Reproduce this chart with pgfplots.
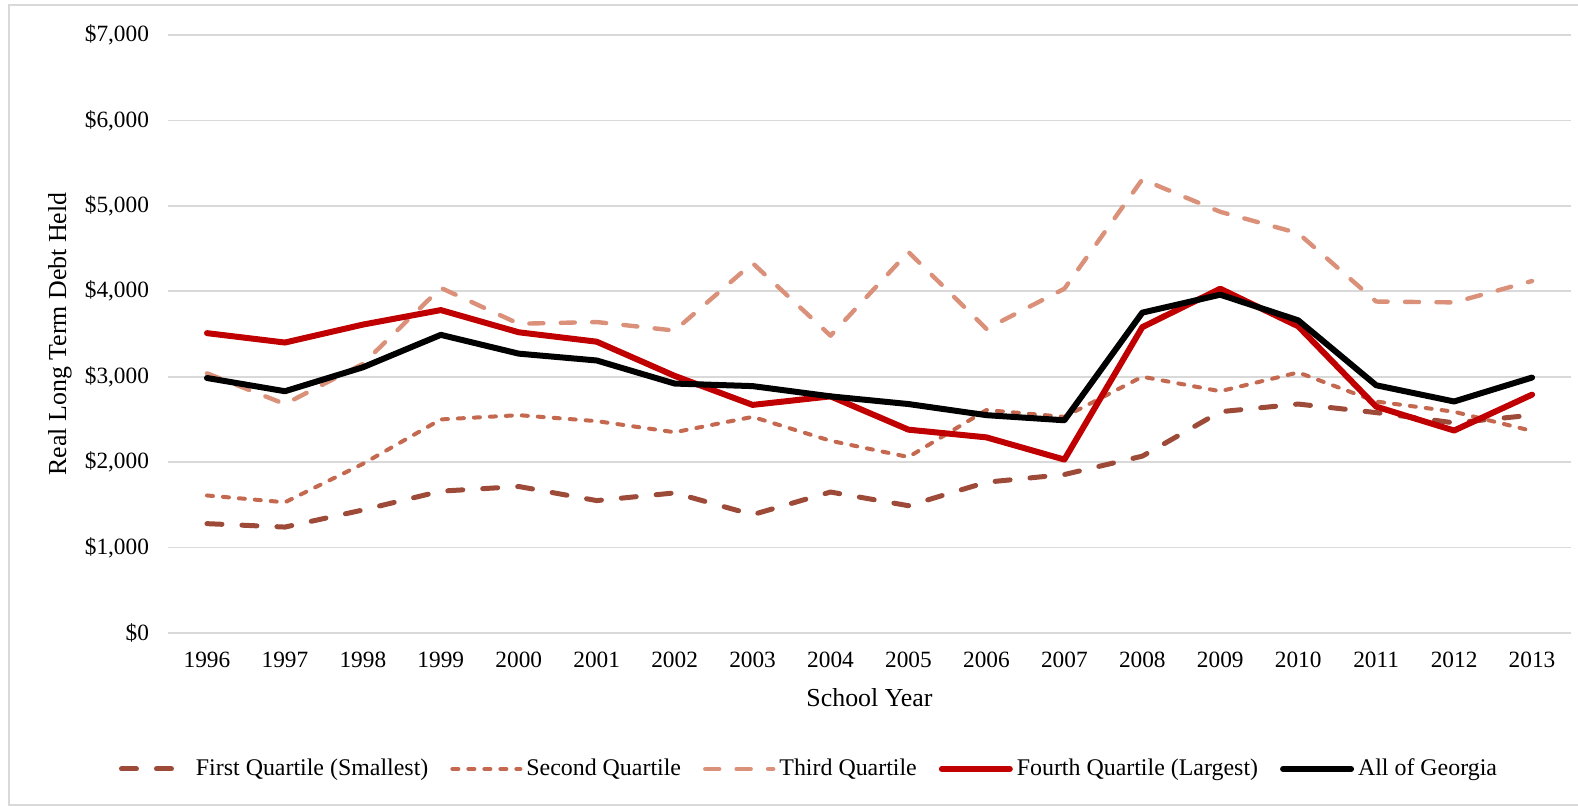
\documentclass[border=0pt]{standalone}
\usepackage{pgfplots}
\pgfplotsset{compat=1.18}
\usepackage{fontspec}
\setmainfont{Liberation Serif}
\definecolor{qone}{HTML}{9E4A38}
\definecolor{qtwo}{HTML}{C4684F}
\definecolor{qthree}{HTML}{DA9079}
\definecolor{qfour}{HTML}{C00000}
\definecolor{gridgray}{HTML}{D9D9D9}
\begin{document}
\begin{tikzpicture}
\useasboundingbox (-84bp,-86.5bp) rectangle (705bp,316.5bp);
\draw[color=gray!30, line width=1bp] (-79.5bp,-86bp) rectangle (712bp,314bp);
\node[rotate=90, anchor=center, font=\fontsize{13}{15.6}\selectfont]
  at (-54bp,149.5bp) {Real Long Term Debt Held};
\begin{axis}[
  scale only axis, width=701.5bp, height=299bp,
  xmin=-0.5, xmax=17.5, ymin=0, ymax=7000,
  xtick={0,...,17},
  xticklabels={1996,1997,1998,1999,2000,2001,2002,2003,2004,2005,2006,2007,2008,2009,2010,2011,2012,2013},
  ytick={0,1000,2000,3000,4000,5000,6000,7000},
  yticklabel={\$\pgfmathprintnumber[fixed,precision=0,1000 sep={,}]{\tick}},
  /pgf/number format/assume math mode=true,
  axis line style={draw=none},
  major tick length=0pt,
  ymajorgrids,
  grid style={color=gridgray, line width=0.8bp},
  ticklabel style={font=\fontsize{11.7}{14}\selectfont},
  yticklabel style={anchor=east, xshift=-6bp},
  xticklabel style={anchor=north, yshift=-6bp},
  xlabel={School Year},
  label style={font=\fontsize{13}{15.6}\selectfont},
  xlabel style={at={(axis description cs:0.5,-0.1087)}, anchor=center},
  legend style={at={(0.4576,-0.2274)}, anchor=center, draw=none,
    font=\fontsize{12}{14.4}\selectfont,
    /tikz/every even column/.append style={column sep=9bp}},
  legend columns=5,
  legend cell align=left,
  legend image code/.code={\draw[#1] (0bp,0bp) -- (34bp,0bp);},
  line join=round,
]
\addplot[color=qone, line width=2.5bp, line cap=round, dash pattern=on 7.5bp off 10bp] coordinates {
(0,1280)(1,1240)(2,1440)(3,1660)(4,1715)(5,1550)(6,1640)(7,1385)(8,1650)(9,1490)
(10,1765)(11,1855)(12,2070)(13,2590)(14,2680)(15,2580)(16,2460)(17,2550)};
\addlegendentry{First Quartile (Smallest)}
\addplot[color=qtwo, line width=2bp, line cap=round, dash pattern=on 3bp off 5bp] coordinates {
(0,1610)(1,1530)(2,1980)(3,2500)(4,2550)(5,2480)(6,2350)(7,2530)(8,2250)(9,2060)
(10,2610)(11,2530)(12,3000)(13,2830)(14,3050)(15,2710)(16,2590)(17,2365)};
\addlegendentry{Second Quartile}
\addplot[color=qthree, line width=2.2bp, line cap=round, dash pattern=on 7bp off 8.7bp] coordinates {
(0,3040)(1,2680)(2,3150)(3,4040)(4,3620)(5,3640)(6,3540)(7,4330)(8,3480)(9,4460)
(10,3560)(11,4030)(12,5310)(13,4930)(14,4680)(15,3880)(16,3870)(17,4120)};
\addlegendentry{Third Quartile}
\addplot[color=qfour, line width=3bp, line cap=round] coordinates {
(0,3510)(1,3400)(2,3610)(3,3780)(4,3520)(5,3410)(6,3010)(7,2670)(8,2770)(9,2380)
(10,2290)(11,2030)(12,3580)(13,4030)(14,3590)(15,2650)(16,2370)(17,2790)};
\addlegendentry{Fourth Quartile (Largest)}
\addplot[color=black, line width=3bp, line cap=round] coordinates {
(0,2985)(1,2830)(2,3110)(3,3490)(4,3270)(5,3190)(6,2920)(7,2890)(8,2770)(9,2680)
(10,2550)(11,2490)(12,3750)(13,3960)(14,3660)(15,2900)(16,2710)(17,2990)};
\addlegendentry{All of Georgia}
\end{axis}
\end{tikzpicture}
\end{document}
